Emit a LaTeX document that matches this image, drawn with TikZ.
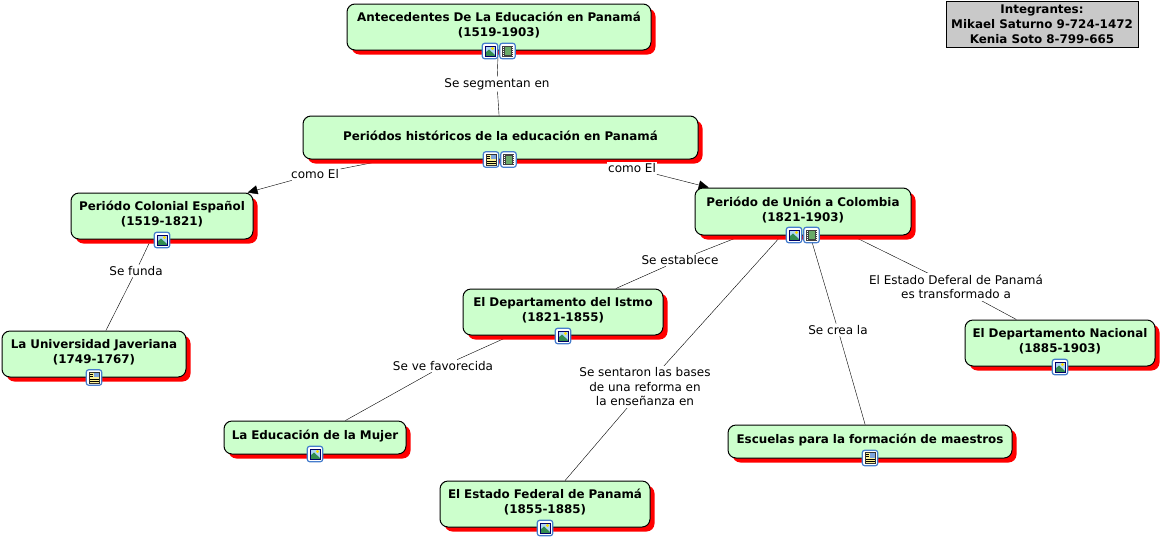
\documentclass[tikz,border=0pt]{standalone}
\usepackage{fontspec}
\setmainfont{DejaVu Sans}
\usepackage{xcolor}
\usetikzlibrary{arrows.meta,shadows,backgrounds}
\definecolor{conceptgreen}{RGB}{204,255,204}
\definecolor{iconblue}{RGB}{70,125,205}
\definecolor{skyblue}{RGB}{175,215,245}
\definecolor{hillgreen}{RGB}{50,140,80}
\definecolor{filmgreen}{RGB}{105,170,105}
\definecolor{pageyellow}{RGB}{250,240,150}
\tikzset{>={Triangle[length=10pt,width=9pt]}}
\tikzset{%
    conceptbox/.style 2 args={%
        draw=black, fill=conceptgreen, rounded corners=8pt, line width=1pt,
        text width=#1pt, minimum height=#2pt, inner xsep=0pt, inner ysep=0pt, align=center,
        font=\fontsize{11.9pt}{15pt}\selectfont\bfseries,
        execute at end node={\par\kern3.5pt},
        drop shadow={shadow xshift=4.5pt,shadow yshift=-4.5pt,fill=red,opacity=1}
    },
    linklabel/.style={%
        fill=white, inner sep=1.5pt, align=center,
        font=\fontsize{12pt}{14.5pt}\selectfont
    },
    iconbox/.style={%
        draw=iconblue, fill=white, rounded corners=2.5pt, line width=1.2pt,
        minimum size=15.5pt, inner sep=0pt
    },
    imgicon/.style={%
        iconbox,
        path picture={%
            \begin{scope}[shift={(path picture bounding box.center)},rounded corners=0pt]
                \fill[skyblue] (-5,-5) rectangle (5,5);
                \fill[yellow!80!orange] (2.5,-2.5) circle (1.7pt);
                \fill[hillgreen] (-5,5) -- (-5,2) -- (-1,-1.5) -- (5,4) -- (5,5) -- cycle;
                \draw[blue!40!black,line width=0.8pt] (-5,-5) rectangle (5,5);
            \end{scope}}
    },
    filmicon/.style={%
        iconbox,
        path picture={%
            \begin{scope}[shift={(path picture bounding box.center)},rounded corners=0pt]
                \fill[black!75] (-5.5,-5.5) rectangle (5.5,5.5);
                \fill[filmgreen] (-3,-4) rectangle (3,4);
                \foreach \ypos in {-4,-2,0,2,4} {%
                    \fill[white] (-5,\ypos-0.5) rectangle (-4,\ypos+0.5);
                    \fill[white] (4,\ypos-0.5) rectangle (5,\ypos+0.5);
                }
            \end{scope}}
    },
    listicon/.style={%
        iconbox,
        path picture={%
            \begin{scope}[shift={(path picture bounding box.center)},rounded corners=0pt]
                \fill[pageyellow] (-5,-5.5) rectangle (5,5.5);
                \fill[iconblue!70] (0,-5) rectangle (5,-0.5);
                \foreach \ypos in {-3.5,-1.5} {\draw[black,line width=0.5pt] (-4.5,\ypos) -- (-1,\ypos);}
                \foreach \ypos in {1.5,3.5} {\draw[black,line width=0.5pt] (-4.5,\ypos) -- (4.5,\ypos);}
                \draw[black!80,line width=0.7pt] (-5,-5.5) rectangle (5,5.5);
            \end{scope}}
    }
}
\begin{document}
\begin{tikzpicture}[x=1pt,y=-1pt]
    \useasboundingbox (0,0) rectangle (1161,539);
    % concepts
    \node[conceptbox={304}{46}] (antecedentes) at (499,27) {Antecedentes De La Educación en Panamá\\(1519-1903)};
    \node[conceptbox={395}{43}] (periodos) at (500.5,137.5) {Periódos históricos de la educación en Panamá};
    \node[conceptbox={182}{46}] (colonial) at (162,216) {Periódo Colonial Español\\(1519-1821)};
    \node[conceptbox={216}{47}] (union) at (803,211.5) {Periódo de Unión a Colombia\\(1821-1903)};
    \node[conceptbox={184}{46}] (javeriana) at (94,354) {La Universidad Javeriana\\(1749-1767)};
    \node[conceptbox={200}{46}] (istmo) at (563,312) {El Departamento del Istmo\\(1821-1855)};
    \node[conceptbox={182}{33}] (mujer) at (315,437.5) {La Educación de la Mujer};
    \node[conceptbox={210}{46}] (federal) at (545,504) {El Estado Federal de Panamá\\(1855-1885)};
    \node[conceptbox={284}{33}] (escuelas) at (870,441.5) {Escuelas para la formación de maestros};
    \node[conceptbox={190}{46}] (nacional) at (1060,343) {El Departamento Nacional\\(1885-1903)};
    % link labels
    \node[linklabel] (segmentan) at (497,84) {Se segmentan en};
    \node[linklabel] (comoizq) at (315,174) {como El};
    \node[linklabel] (comoder) at (632,168) {como El};
    \node[linklabel] (funda) at (136,271) {Se funda};
    \node[linklabel] (establece) at (680,260) {Se establece};
    \node[linklabel] (favorecida) at (443,366) {Se ve favorecida};
    \node[linklabel] (sentaron) at (645,387) {Se sentaron las bases\\de una reforma en\\la enseñanza en};
    \node[linklabel] (crea) at (838,330) {Se crea la};
    \node[linklabel] (deferal) at (956,287) {El Estado Deferal de Panamá\\es transformado a};
    % connectors
    \begin{scope}[on background layer,line width=1pt]
        \draw (antecedentes) -- (segmentan) -- (periodos);
        \draw (periodos) -- (comoizq);
        \draw[->] (comoizq) -- (colonial);
        \draw (periodos) -- (comoder);
        \draw[->] (comoder) -- (union);
        \draw (colonial) -- (funda) -- (javeriana);
        \draw (union) -- (establece) -- (istmo);
        \draw (istmo) -- (favorecida) -- (mujer);
        \draw (union) -- (sentaron) -- (federal);
        \draw (union) -- (crea) -- (escuelas);
        \draw (union) -- (deferal) -- (nacional);
    \end{scope}
    % icons
    \node[imgicon] (iconA) at (490,51) {};
    \node[filmicon] (iconB) at (507.5,51) {};
    \node[listicon] (iconC) at (491,159.5) {};
    \node[filmicon] (iconD) at (508.5,159.5) {};
    \node[imgicon] (iconE) at (162,240) {};
    \node[imgicon] (iconF) at (794,235) {};
    \node[filmicon] (iconG) at (811.5,235) {};
    \node[listicon] (iconH) at (94,377.5) {};
    \node[imgicon] (iconI) at (563,336) {};
    \node[imgicon] (iconJ) at (315,454) {};
    \node[imgicon] (iconK) at (545,528) {};
    \node[listicon] (iconL) at (870,458) {};
    \node[imgicon] (iconM) at (1060,367) {};
    % team box
    \node[draw=black, fill=black!21, line width=1pt, minimum width=192pt, minimum height=46pt, inner sep=0pt, align=center,
        font=\fontsize{11.9pt}{15pt}\selectfont\bfseries] (integrantes) at (1042,24)
        {Integrantes:\\Mikael Saturno 9-724-1472\\Kenia Soto 8-799-665};
\end{tikzpicture}
\end{document}
